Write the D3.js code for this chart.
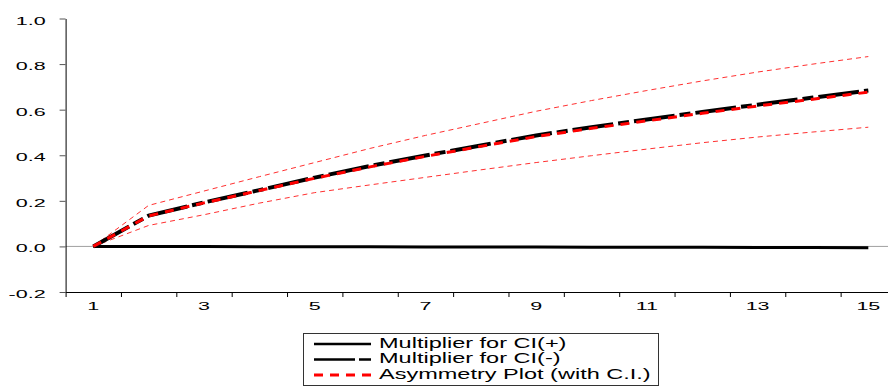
<!doctype html>
<html>
<head>
    <meta charset="UTF-8">
    <title>Multiplier Plot</title>
    <script src="https://d3js.org/d3.v7.min.js"></script>
    <style>
        body { margin: 0; background: #fff; }
        * { font-family: "Liberation Sans", Arial, sans-serif; }
    </style>
</head>
<body>
<svg id="chart" width="888" height="387"></svg>
<script>
    // horizon 1..15
    var periods = d3.range(1, 16);

    // multiplier values
    var multPos = [0, -0.0002, -0.0006, -0.0010, -0.0013, -0.0017, -0.0021, -0.0025, -0.0029, -0.0033, -0.0037, -0.0041, -0.0046, -0.0050, -0.0055];
    var multNeg = [0, 0.135, 0.193, 0.247, 0.302, 0.353, 0.399, 0.443, 0.487, 0.523, 0.557, 0.590, 0.622, 0.653, 0.684];
    var asym = [0, 0.134, 0.191, 0.245, 0.299, 0.349, 0.395, 0.439, 0.482, 0.518, 0.551, 0.584, 0.616, 0.646, 0.677];
    var ciUpper = [0, 0.180, 0.243, 0.306, 0.368, 0.430, 0.487, 0.540, 0.593, 0.640, 0.684, 0.726, 0.765, 0.800, 0.833];
    var ciLower = [0, 0.092, 0.139, 0.190, 0.236, 0.270, 0.303, 0.336, 0.368, 0.398, 0.427, 0.455, 0.480, 0.502, 0.523];

    var yTicks = [-0.2, 0.0, 0.2, 0.4, 0.6, 0.8, 1.0];
    var xLabels = [1, 3, 5, 7, 9, 11, 13, 15];
    var legendNames = ["Multiplier for CI(+)", "Multiplier for CI(-)", "Asymmetry Plot (with C.I.)"];

    var svg = d3.select("#chart");
    // note: "top" is taken by window.top, so plot* names
    var plotLeft = 65.6, plotRight = 896, plotTop = 18.5, plotBottom = 292;

    var x = d3.scaleLinear().domain([0.5, 15.5]).range([plotLeft, plotRight]);
    var y = d3.scaleLinear().domain([-0.2, 1.0]).range([plotBottom, plotTop]);

    // the text in the picture is stretched sideways
    var axisStretch = 2.15, legStretch = 1.68;

    // zero line
    svg.append("line")
        .attr("x1", plotLeft).attr("x2", 888)
        .attr("y1", y(0)).attr("y2", y(0))
        .attr("stroke", "#a0a0a0")
        .attr("stroke-width", 1);

    // y axis
    var yAxis = svg.append("g")
        .attr("transform", "translate(" + plotLeft + ",0)")
        .call(d3.axisLeft(y).tickValues(yTicks).tickSize(6).tickSizeOuter(0)
            .tickFormat(d3.format(".1f")));
    yAxis.select(".domain").attr("stroke", "#000");
    yAxis.selectAll(".tick line").attr("stroke", "#555");
    yAxis.selectAll(".tick text")
        .attr("font-size", 10)
        .attr("fill", "#000")
        .attr("x", -20 / axisStretch)
        .attr("dy", "0.55em")
        .attr("transform", "scale(" + axisStretch + ",1)")
        .text(function(d) { return d3.format(".1f")(d).replace("\u2212", "-"); });

    // x axis, ticks sit between the periods
    var xAxis = svg.append("g")
        .attr("transform", "translate(0," + plotBottom + ")")
        .call(d3.axisBottom(x).tickValues(d3.range(0.5, 15.6, 1)).tickSize(5).tickSizeOuter(0)
            .tickFormat(""));
    xAxis.select(".domain").attr("stroke", "#000");
    xAxis.selectAll(".tick line").attr("stroke", "#000");

    svg.selectAll(".xlab")
        .data(xLabels)
        .enter().append("text")
            .attr("class", "xlab")
            .attr("font-size", 10)
            .attr("text-anchor", "middle")
            .attr("transform", function(d) { return "translate(" + x(d) + ",309.5) scale(" + axisStretch + ",1)"; })
            .text(function(d) { return d; });

    function lineOf(vals) {
        return d3.line()
            .x(function(d, i) { return x(periods[i]); })
            .y(function(d) { return y(d); })(vals);
    }

    // confidence bands
    [ciUpper, ciLower].forEach(function(v) {
        svg.append("path")
            .attr("d", lineOf(v))
            .attr("fill", "none")
            .attr("stroke", "#ff3030")
            .attr("stroke-width", 1)
            .attr("stroke-dasharray", "5,4");
    });

    var styles = [
        { stroke: "#000", width: 3, dash: null },
        { stroke: "#000", width: 4, dash: "41,5,11,5" },
        { stroke: "#ff0000", width: 3, dash: "9,7" }
    ];

    [multPos, multNeg, asym].forEach(function(v, k) {
        svg.append("path")
            .attr("d", lineOf(v))
            .attr("fill", "none")
            .attr("stroke", styles[k].stroke)
            .attr("stroke-width", styles[k].width)
            .attr("stroke-dasharray", styles[k].dash);
    });

    // legend
    var leg = svg.append("g");
    leg.append("rect")
        .attr("x", 303.5).attr("y", 333.5)
        .attr("width", 355).attr("height", 52)
        .attr("fill", "#fff")
        .attr("stroke", "#333");

    legendNames.forEach(function(name, k) {
        var ly = 344 + k * 15.5;
        leg.append("line")
            .attr("x1", 314).attr("x2", 371)
            .attr("y1", ly).attr("y2", ly)
            .attr("stroke", styles[k].stroke)
            .attr("stroke-width", k == 2 ? 3 : 2.5)
            .attr("stroke-dasharray", k == 0 ? null : (k == 1 ? "41,4,12,4" : "9,7"));
        leg.append("text")
            .attr("font-size", 14)
            .attr("transform", "translate(379," + (ly + 3.5) + ") scale(" + legStretch + ",1)")
            .text(name);
    });
</script>
</body>
</html>
